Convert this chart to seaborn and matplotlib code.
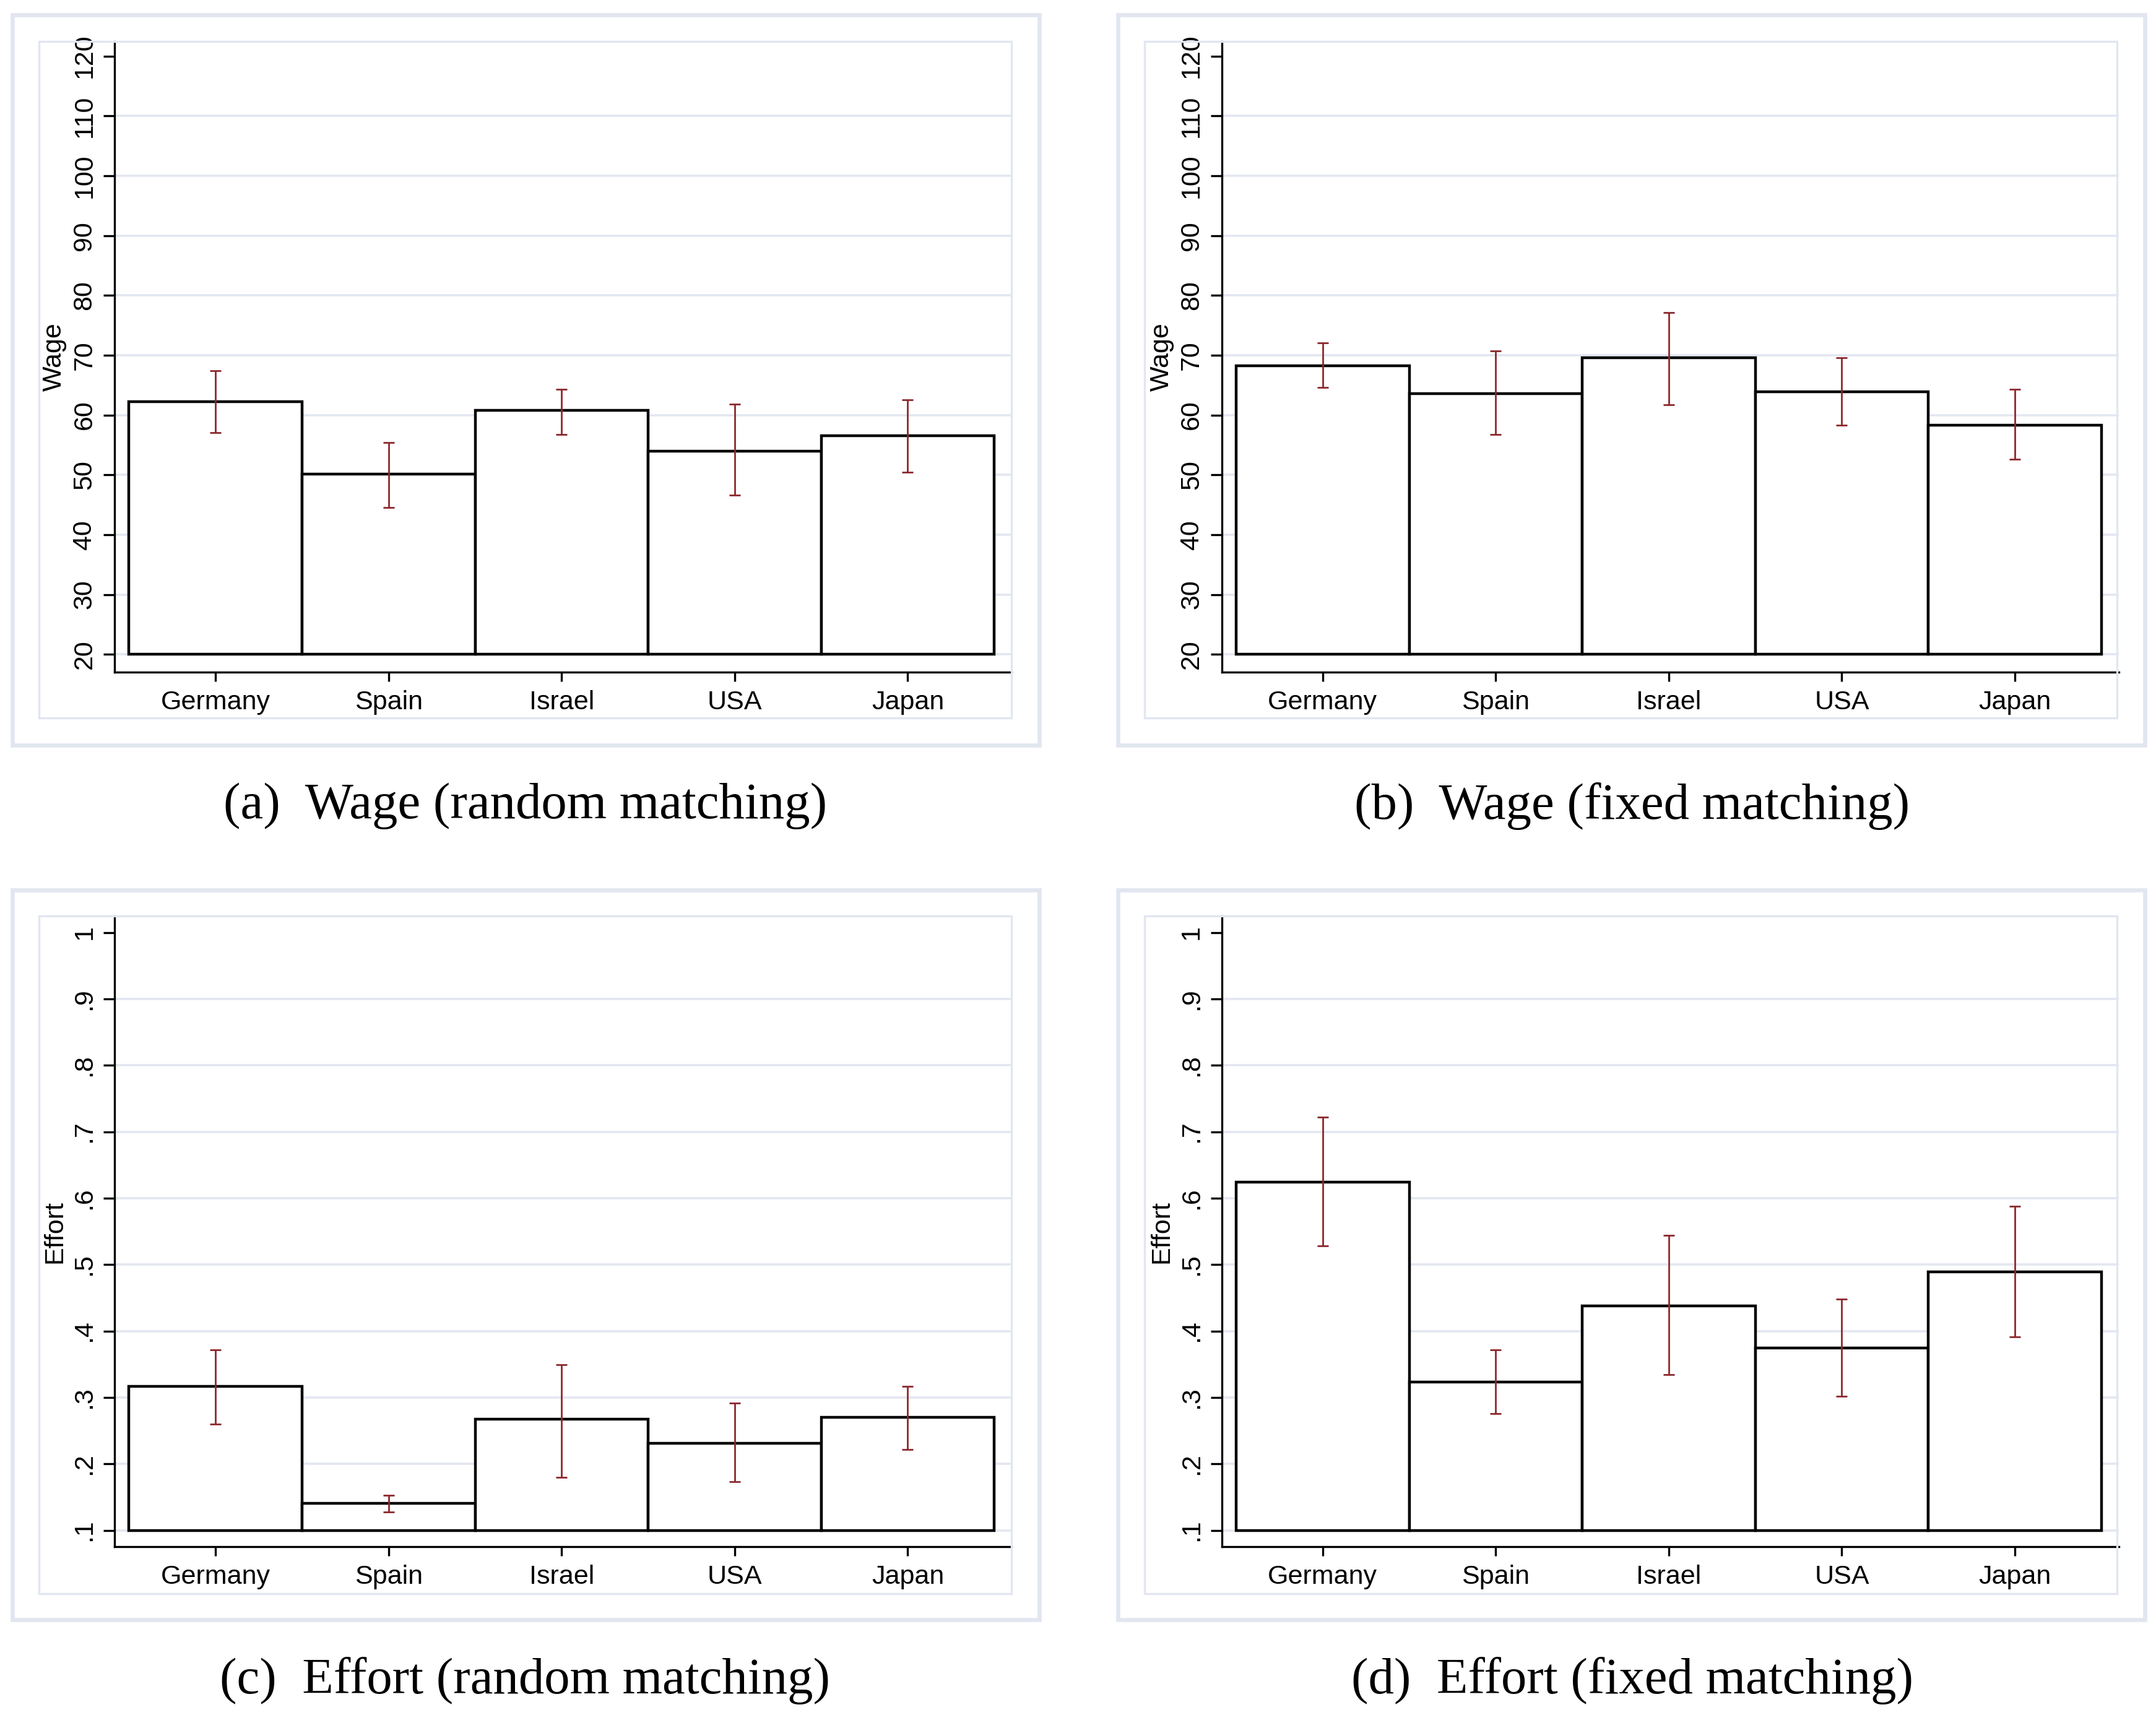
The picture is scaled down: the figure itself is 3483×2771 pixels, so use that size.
import numpy as np
import pandas as pd
import matplotlib
matplotlib.use("Agg")
import matplotlib.pyplot as plt
from matplotlib.patches import Rectangle
import seaborn as sns

sns.set_style("white")
plt.rcParams['font.family'] = ['Liberation Sans', 'DejaVu Sans']
plt.rcParams['text.color'] = 'black'
plt.rcParams['axes.labelcolor'] = 'black'
plt.rcParams['xtick.color'] = 'black'
plt.rcParams['ytick.color'] = 'black'

countries = ["Germany", "Spain", "Israel", "USA", "Japan"]

# wage, random matching
wage_rand = [62.2, 50.1, 60.8, 54.0, 56.5]
wage_rand_lo = [57.1, 44.5, 56.8, 46.6, 50.4]
wage_rand_hi = [67.4, 55.4, 64.3, 61.8, 62.5]

# wage, fixed matching
wage_fix = [68.2, 63.6, 69.6, 63.9, 58.3]
wage_fix_lo = [64.6, 56.8, 61.7, 58.3, 52.6]
wage_fix_hi = [72.1, 70.7, 77.1, 69.6, 64.3]

# effort, random matching
eff_rand = [0.317, 0.141, 0.267, 0.231, 0.270]
eff_rand_lo = [0.260, 0.128, 0.180, 0.173, 0.222]
eff_rand_hi = [0.372, 0.153, 0.349, 0.292, 0.317]

# effort, fixed matching
eff_fix = [0.624, 0.323, 0.438, 0.374, 0.489]
eff_fix_lo = [0.528, 0.276, 0.334, 0.302, 0.391]
eff_fix_hi = [0.722, 0.372, 0.544, 0.448, 0.588]

wage_ticks = list(range(20, 121, 10))
wage_labels = [str(t) for t in wage_ticks]
eff_ticks = [0.1, 0.2, 0.3, 0.4, 0.5, 0.6, 0.7, 0.8, 0.9, 1.0]
eff_labels = [".1", ".2", ".3", ".4", ".5", ".6", ".7", ".8", ".9", "1"]

captions = ["(a)  Wage (random matching)", "(b)  Wage (fixed matching)",
            "(c)  Effort (random matching)", "(d)  Effort (fixed matching)"]

frame_col = "#e1e6f0"
grid_col = "#e3e7f1"
err_col = "#8b282d"

fig = plt.figure(figsize=(17.415, 13.855), dpi=200)

panels = [
    (wage_rand, wage_rand_lo, wage_rand_hi, "Wage", wage_ticks, wage_labels, (17.0, 122.5), 20),
    (wage_fix, wage_fix_lo, wage_fix_hi, "Wage", wage_ticks, wage_labels, (17.0, 122.5), 20),
    (eff_rand, eff_rand_lo, eff_rand_hi, "Effort", eff_ticks, eff_labels, (0.075, 1.025), 0.1),
    (eff_fix, eff_fix_lo, eff_fix_hi, "Effort", eff_ticks, eff_labels, (0.075, 1.025), 0.1),
]

lefts = [0.0532, 0.5667]
bottoms = [0.608, 0.098]
outer_x = [(0.00577, 0.482), (0.5186, 0.9949)]
outer_y = [(0.5655, 0.9912), (0.0554, 0.4811)]
inner_x = [(0.01795, 0.4692), (0.5308, 0.982)]
inner_y = [(0.5815, 0.9759), (0.0707, 0.4659)]
cap_x = [380 / 1560, 1181 / 1560]
cap_y = [1 - 585 / 1245, 1 - 1220 / 1245]

for i, (means, lo, hi, ylab, ticks, tlabels, ylim, base) in enumerate(panels):
    r, c = divmod(i, 2)

    # outer and inner Stata-like boxes
    fig.patches.append(Rectangle((outer_x[c][0], outer_y[r][0]),
                                 outer_x[c][1] - outer_x[c][0], outer_y[r][1] - outer_y[r][0],
                                 transform=fig.transFigure, fill=False,
                                 edgecolor=frame_col, linewidth=2.4, zorder=0))
    fig.patches.append(Rectangle((inner_x[c][0], inner_y[r][0]),
                                 inner_x[c][1] - inner_x[c][0], inner_y[r][1] - inner_y[r][0],
                                 transform=fig.transFigure, fill=False,
                                 edgecolor=frame_col, linewidth=1.2, zorder=0))

    ax = fig.add_axes([lefts[c], bottoms[r], 0.416, 0.368])
    ax.set_facecolor("none")

    df = pd.DataFrame({"country": countries, "value": means})
    sns.barplot(data=df, x="country", y="value", order=countries, ax=ax,
                color="white", edgecolor="black", linewidth=1.6, width=1,
                errorbar=None, zorder=2)
    for p, m in zip(ax.patches, means):
        p.set_facecolor("white")
        p.set_y(base)
        p.set_height(m - base)

    m = np.array(means)
    yerr = [m - np.array(lo), np.array(hi) - m]
    ax.errorbar(np.arange(len(countries)), m, yerr=yerr, fmt="none",
                ecolor=err_col, elinewidth=1.0, capsize=3.2, capthick=1.0, zorder=3)

    ax.set_xlim(-0.583, 4.6)
    ax.set_ylim(*ylim)
    ax.set_yticks(ticks)
    ax.set_yticklabels(tlabels)
    ax.set_xlabel("")
    ax.set_ylabel(ylab, fontsize=15.5, labelpad=3)

    ax.yaxis.grid(True, color=grid_col, linewidth=1.3)
    ax.xaxis.grid(False)
    ax.set_axisbelow(True)
    ax.get_ygridlines()[-1].set_visible(False)

    for s in ["top", "right"]:
        ax.spines[s].set_visible(False)
    for s in ["left", "bottom"]:
        ax.spines[s].set_color("black")
        ax.spines[s].set_linewidth(1.2)

    ax.tick_params(axis="y", direction="out", length=6.4, width=1.2,
                   labelsize=15.5, pad=4, left=True, rotation=90)
    ax.tick_params(axis="x", direction="out", length=5.4, width=1.2,
                   labelsize=15.5, pad=5, bottom=True)
    for t in ax.get_yticklabels():
        t.set_verticalalignment("center")

    fig.text(cap_x[c], cap_y[r], captions[i], ha="center", va="center",
             fontsize=29.8, color="black", family=["Liberation Serif", "DejaVu Serif"])

fig.savefig("out.png", dpi=200, facecolor="white")
